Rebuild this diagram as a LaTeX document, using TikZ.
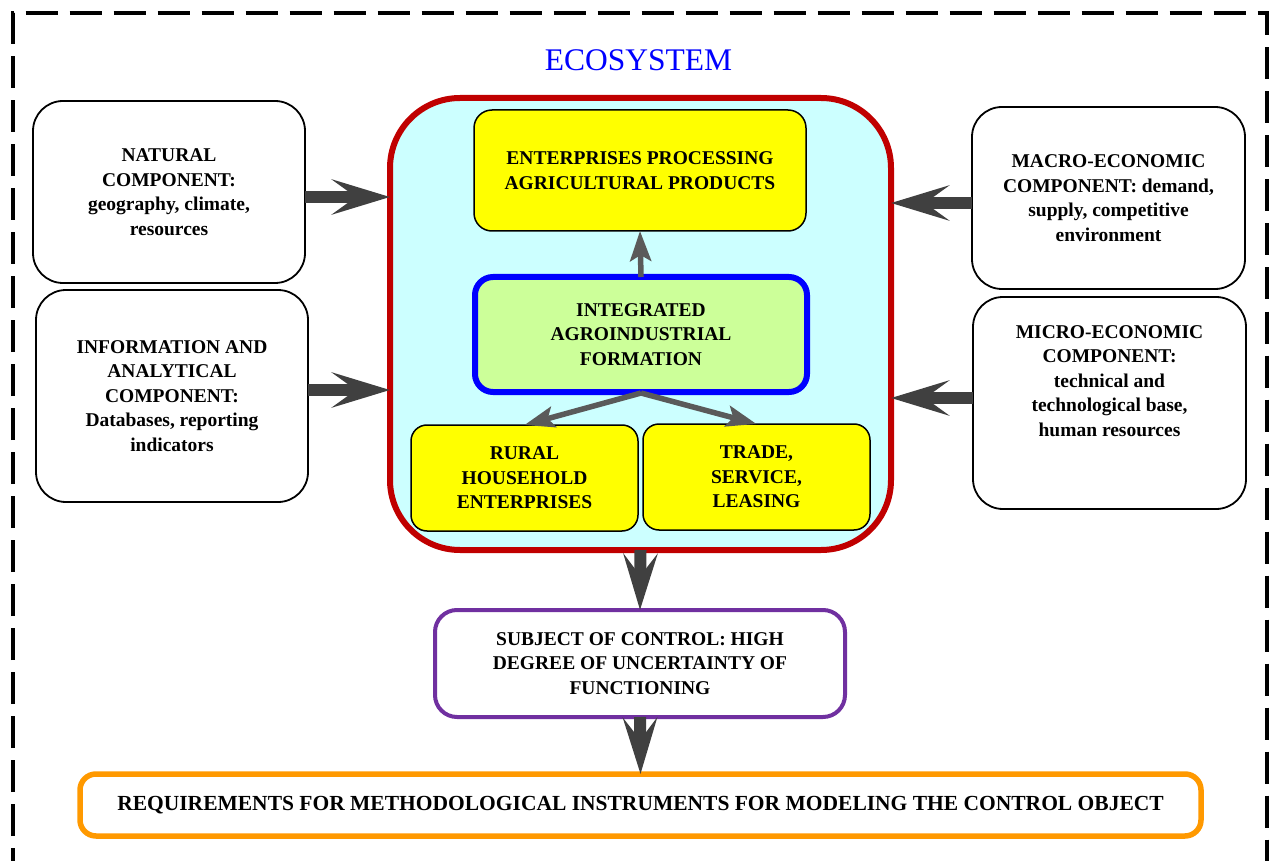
\documentclass[tikz,border=0pt]{standalone}
\usepackage{fontspec}
\setmainfont{Liberation Serif}
\usetikzlibrary{arrows.meta}
\definecolor{ecofill}{HTML}{CCFFFF}
\definecolor{ecored}{HTML}{C00000}
\definecolor{yel}{HTML}{FFFF00}
\definecolor{lgreen}{HTML}{CCFF99}
\definecolor{bblue}{HTML}{0000FF}
\definecolor{purp}{HTML}{7030A0}
\definecolor{oran}{HTML}{FF9900}
\definecolor{darkarrow}{HTML}{404040}
\definecolor{thinarrow}{HTML}{5A5A5A}
\tikzset{
  boxtext/.style={font=\bfseries\fontsize{19.5}{24.5}\selectfont, align=center},
  compbox/.style={draw=black, line width=1.8pt, fill=white, rounded corners=30pt,
    outer sep=0pt, inner sep=0pt, boxtext},
  yelbox/.style={draw=black, line width=1.5pt, fill=yel, rounded corners=18pt,
    outer sep=0pt, inner sep=0pt, boxtext},
  bigarrow/.style={draw=darkarrow, line width=12pt,
    -{Stealth[length=58pt, width=35pt, inset=24pt, fill=darkarrow]}},
  vbigarrow/.style={draw=darkarrow, line width=12pt,
    -{Stealth[length=56pt, width=34pt, inset=22pt, fill=darkarrow]}},
  thinarr/.style={draw=thinarrow, line width=5.5pt,
    -{Stealth[length=30pt, width=21pt, inset=6pt, fill=thinarrow]}},
}
\begin{document}
\begin{tikzpicture}[x=1pt, y=-1pt]
\useasboundingbox (0,0) rectangle (1275,861);
% dashed frame
\draw[line width=4pt, dash pattern=on 32pt off 12pt] (12.5,880) -- (12.5,13) -- (1267,13) -- (1267,880);

% title
\node[text=bblue, font=\fontsize{31.5}{36}\selectfont] (title) at (638.5,60) {ECOSYSTEM};

% ecosystem box
\node[draw=ecored, line width=6pt, fill=ecofill, rounded corners=70pt, outer sep=0pt,
  minimum width=501pt, minimum height=452pt] (eco) at (640.5,324) {};

% inner boxes
\node[yelbox, minimum width=332pt, minimum height=121pt] (ent) at (640,170.5)
  {ENTERPRISES PROCESSING\\AGRICULTURAL PRODUCTS};
\node[draw=bblue, line width=6pt, fill=lgreen, rounded corners=18pt, outer sep=0pt,
  inner sep=0pt, boxtext, minimum width=332pt, minimum height=115pt] (integ) at (641,334.5)
  {INTEGRATED\\AGROINDUSTRIAL\\FORMATION};
\node[yelbox, rounded corners=16pt, minimum width=227pt, minimum height=106pt] (rural) at (524.5,478)
  {RURAL\\HOUSEHOLD\\ENTERPRISES};
\node[yelbox, rounded corners=16pt, minimum width=227pt, minimum height=106pt] (trade) at (756.5,477)
  {TRADE,\\SERVICE,\\LEASING};

% side component boxes
\node[compbox, minimum width=272pt, minimum height=182pt] (natural) at (169,192)
  {NATURAL\\COMPONENT:\\geography, climate,\\resources};
\node[compbox, minimum width=272pt, minimum height=212pt] (info) at (172,396)
  {INFORMATION AND\\ANALYTICAL\\COMPONENT:\\Databases, reporting\\indicators};
\node[compbox, minimum width=273pt, minimum height=182pt] (macro) at (1108.5,198)
  {MACRO-ECONOMIC\\COMPONENT: demand,\\supply, competitive\\environment};
\node[compbox, minimum width=273pt, minimum height=212pt] (micro) at (1109.5,403) {};
\node[boxtext] (microtxt) at (1109.5,381)
  {MICRO-ECONOMIC\\COMPONENT:\\technical and\\technological base,\\human resources};

% lower boxes
\node[draw=purp, line width=4pt, fill=white, rounded corners=22pt, outer sep=0pt,
  inner sep=0pt, boxtext, minimum width=410pt, minimum height=107pt] (subject) at (640,663.5)
  {SUBJECT OF CONTROL: HIGH\\DEGREE OF UNCERTAINTY OF\\FUNCTIONING};
\node[draw=oran, line width=5.5pt, fill=white, rounded corners=16pt, outer sep=0pt,
  inner sep=0pt, font=\bfseries\fontsize{21.5}{26}\selectfont,
  minimum width=1121pt, minimum height=62pt] (req) at (640.5,805)
  {REQUIREMENTS FOR METHODOLOGICAL INSTRUMENTS FOR MODELING THE CONTROL OBJECT};

% big arrows
\draw[bigarrow] ([yshift=-5pt]natural.east) -- ([yshift=-5pt]natural.east -| eco.west);
\draw[bigarrow] ([yshift=6pt]info.east) -- ([yshift=6pt]info.east -| eco.west);
\draw[bigarrow] ([yshift=-5pt]macro.west) -- ([yshift=-5pt]macro.west -| eco.east);
\draw[bigarrow] ([yshift=5pt]micro.west) -- ([yshift=5pt]micro.west -| eco.east);
\draw[vbigarrow] (eco.south) -- (subject.north);
\draw[vbigarrow] (subject.south) -- (req.north);

% thin arrows
\draw[thinarr] (integ.north) -- (ent.south);
\coordinate (fork) at ([yshift=-1pt]integ.south);
\draw[thinarr] (fork) -- (rural.north);
\draw[thinarr] (fork) -- (trade.north);
\end{tikzpicture}
\end{document}
